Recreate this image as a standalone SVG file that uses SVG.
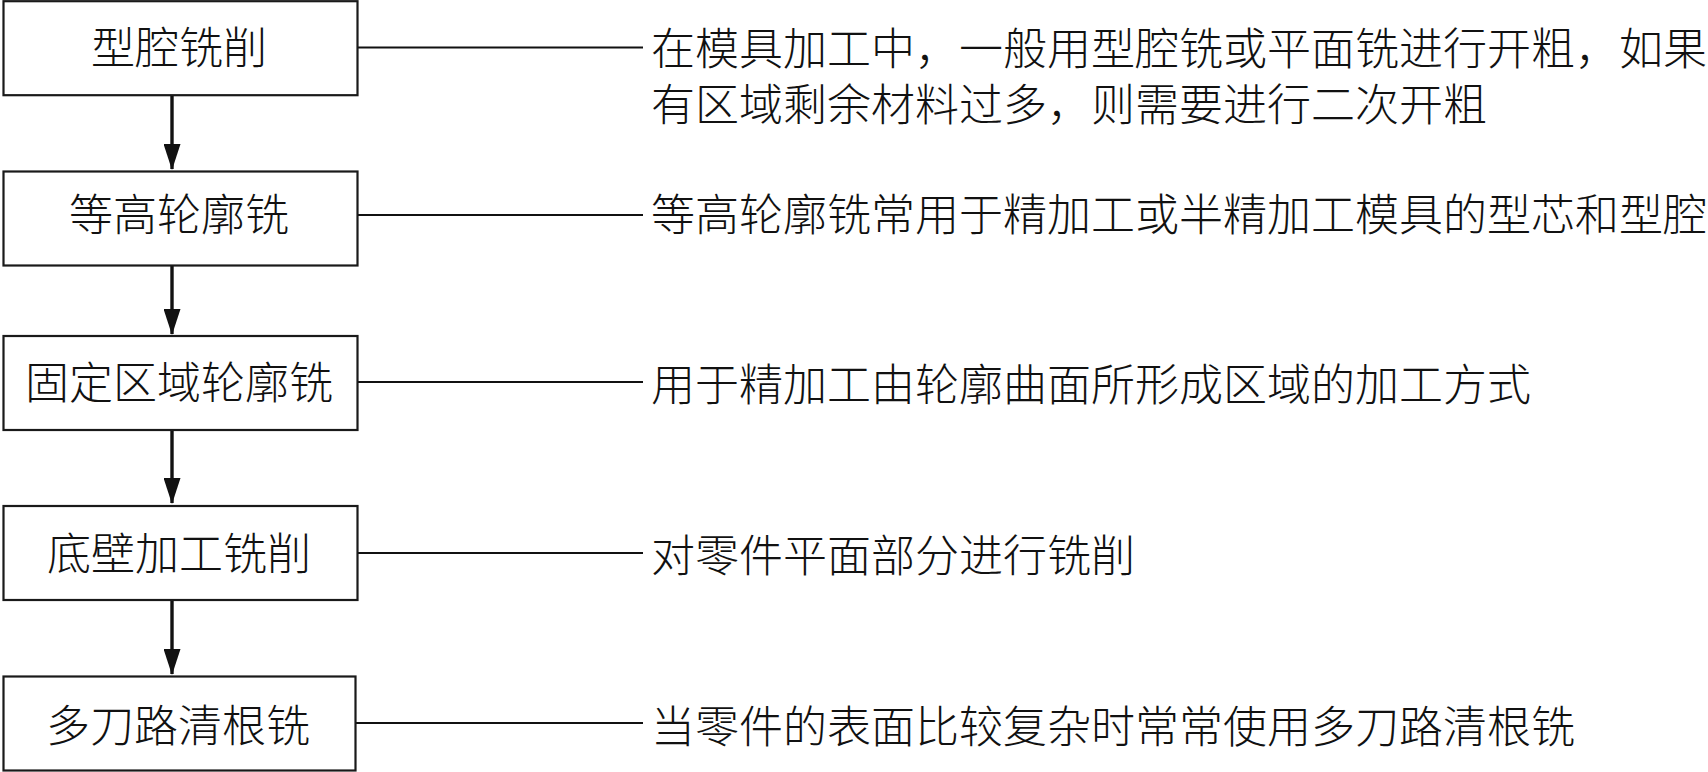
<svg xmlns="http://www.w3.org/2000/svg" width="1708" height="772" viewBox="0 0 1708 772">
<style>
.box{fill:#fff;stroke:#1a1a1a;stroke-width:2.2}
.lbl{font-family:"Liberation Serif","Noto Sans CJK SC",serif;font-size:44px;font-weight:300;fill:#111;text-anchor:middle}
.desc{font-family:"Liberation Serif","Noto Sans CJK SC",serif;font-size:44px;font-weight:300;fill:#111}
.lead{stroke:#111;stroke-width:2;fill:none}
.flow{stroke:#111;stroke-width:3.4;fill:none}
</style>
<defs>
<marker id="ah" markerUnits="userSpaceOnUse" markerWidth="26" markerHeight="17" refX="25" refY="8.5" orient="auto" viewBox="0 0 26 17">
<path d="M0,0 L26,8.5 L0,17 Z" fill="#111"/>
</marker>
</defs>
<rect width="1708" height="772" fill="#fff"/>
<g id="connectors">
<line class="flow" x1="172" y1="96" x2="172" y2="169" marker-end="url(#ah)"/>
<line class="flow" x1="172" y1="266" x2="172" y2="334" marker-end="url(#ah)"/>
<line class="flow" x1="172" y1="431" x2="172" y2="503" marker-end="url(#ah)"/>
<line class="flow" x1="172" y1="601" x2="172" y2="674" marker-end="url(#ah)"/>
<line class="lead" x1="358" y1="47.5" x2="643" y2="47.5"/>
<line class="lead" x1="358" y1="215" x2="643" y2="215"/>
<line class="lead" x1="358" y1="382" x2="643" y2="382"/>
<line class="lead" x1="358" y1="553" x2="643" y2="553"/>
<line class="lead" x1="356" y1="723" x2="643" y2="723"/>
</g>
<g id="node1">
<rect class="box" x="3.5" y="1.2" width="354" height="94"/>
<text class="lbl" x="179" y="64">型腔铣削</text>
</g>
<g id="desc1">
<text class="desc" x="651" y="65">在模具加工中，一般用型腔铣或平面铣进行开粗，如果</text>
<text class="desc" x="651" y="121">有区域剩余材料过多，则需要进行二次开粗</text>
</g>
<g id="node2">
<rect class="box" x="3.5" y="171.5" width="354" height="94"/>
<text class="lbl" x="179" y="231">等高轮廓铣</text>
</g>
<g id="desc2">
<text class="desc" x="651" y="231">等高轮廓铣常用于精加工或半精加工模具的型芯和型腔</text>
</g>
<g id="node3">
<rect class="box" x="3.5" y="336" width="354" height="94"/>
<text class="lbl" x="179" y="399">固定区域轮廓铣</text>
</g>
<g id="desc3">
<text class="desc" x="651" y="401">用于精加工由轮廓曲面所形成区域的加工方式</text>
</g>
<g id="node4">
<rect class="box" x="3.5" y="506" width="354" height="94"/>
<text class="lbl" x="179" y="570">底壁加工铣削</text>
</g>
<g id="desc4">
<text class="desc" x="651" y="572">对零件平面部分进行铣削</text>
</g>
<g id="node5">
<rect class="box" x="3.5" y="676.5" width="352" height="94"/>
<text class="lbl" x="178" y="742">多刀路清根铣</text>
</g>
<g id="desc5">
<text class="desc" x="651" y="743">当零件的表面比较复杂时常常使用多刀路清根铣</text>
</g>
</svg>
